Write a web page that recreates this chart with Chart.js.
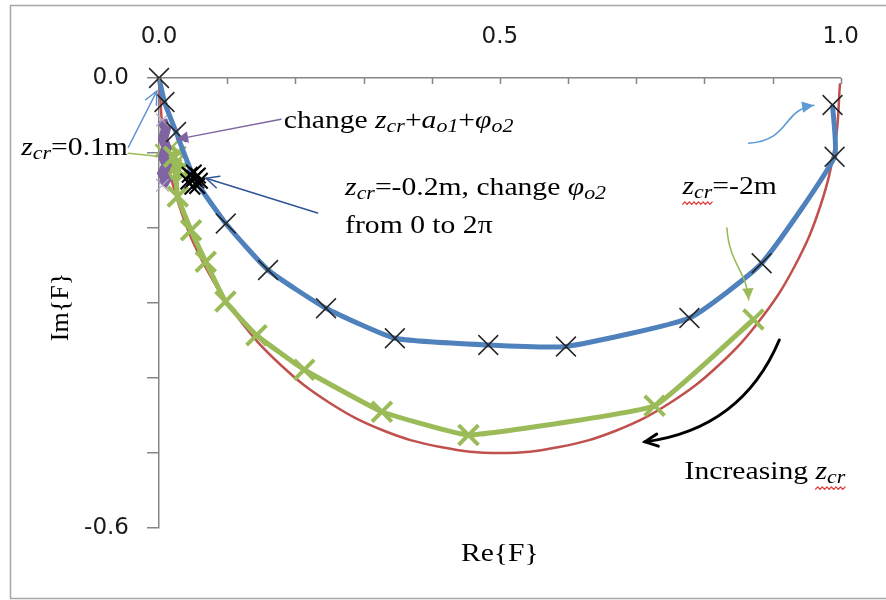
<!DOCTYPE html>
<html>
<head>
<meta charset="utf-8">
<script src="https://cdn.jsdelivr.net/npm/chart.js@4.4.1/dist/chart.umd.min.js"></script>
<style>
  html, body { margin: 0; padding: 0; background: #fff; }
  canvas { display: block; }
</style>
</head>
<body>
<canvas id="chart" width="886" height="600"></canvas>
<script>
const SERIF = '"Liberation Serif", "Times New Roman", serif';
const SANS = '"DejaVu Sans", sans-serif';
const STRETCH = 1.14; // the original picture is a bit wider than tall

// labelled ticks
const reTicks = [0, 0.5, 1];
const imTicks = [0, -0.6];

// red: reference circle
const circleRe = [0, 0.008, 0.030, 0.067, 0.117, 0.179, 0.25, 0.329, 0.413, 0.5, 0.587, 0.671, 0.75, 0.821, 0.883, 0.933, 0.970, 0.992, 0.999];
const circleIm = [0, -0.087, -0.171, -0.25, -0.321, -0.383, -0.433, -0.47, -0.492, -0.5, -0.492, -0.47, -0.433, -0.383, -0.321, -0.25, -0.171, -0.087, -0.007];

// blue line with black markers
const blueRe = [0, 0.008, 0.025, 0.052, 0.098, 0.160, 0.245, 0.346, 0.483, 0.597, 0.778, 0.884, 0.991, 0.988];
const blueIm = [0, -0.032, -0.072, -0.134, -0.194, -0.256, -0.307, -0.347, -0.356, -0.358, -0.320, -0.247, -0.105, -0.036];

// green line
const greenRe = [0.022, 0.0275, 0.047, 0.0686, 0.0975, 0.143, 0.213, 0.327, 0.454, 0.727, 0.872];
const greenIm = [-0.105, -0.158, -0.203, -0.245, -0.298, -0.343, -0.389, -0.445, -0.476, -0.437, -0.322];

// z_cr = -0.2 m, phi_o2 from 0 to 2pi
const phiRe = [0.045, 0.051, 0.057, 0.060, 0.056, 0.049, 0.043, 0.052];
const phiIm = [-0.129, -0.126, -0.130, -0.137, -0.144, -0.145, -0.138, -0.134];

// z_cr = 0.1 m
const z01Re = [0.004, 0.018, 0.030, 0.014, 0.028, 0.016, 0.033, 0.021, 0.036, 0.019];
const z01Im = [-0.097, -0.093, -0.100, -0.106, -0.110, -0.116, -0.119, -0.124, -0.129, -0.133];

// change z_cr + a_o1 + phi_o2
const mixRe = [0.005, 0.010, 0.006, 0.011, 0.006, 0.011, 0.005, 0.010, 0.005];
const mixIm = [-0.056, -0.068, -0.081, -0.093, -0.105, -0.116, -0.127, -0.136, -0.143];

const pts = (re, im) => re.map((x, i) => ({ x, y: im[i] }));

// text notes, anchored in data units (left, baseline)
const notes = [
  { at: [0.183, -0.066], parts: [['change ', ''], ['z', 'i'], ['cr', 's'], ['+', ''], ['a', 'i'], ['o1', 's'], ['+', ''], ['φ', 'i'], ['o2', 's']] },
  { at: [-0.202, -0.103], parts: [['z', 'i'], ['cr', 's'], ['=0.1m', '']] },
  { at: [0.273, -0.156], parts: [['z', 'i'], ['cr', 's'], ['=-0.2m, change ', ''], ['φ', 'i'], ['o2', 's']] },
  { at: [0.273, -0.207], parts: [['from 0 to 2π', '']] },
  { at: [0.768, -0.155], parts: [['z', 'iw'], ['cr', 'sw'], ['=-2m', '']] },
  { at: [0.771, -0.535], parts: [['Increasing ', ''], ['z', 'iw'], ['cr', 'sw']] },
];

const arrows = [
  { p: [[0.179, -0.055], [0.0256, -0.0818]], color: '#8064a2', w: 1.3, head: 'fill' },
  { p: [[-0.045, -0.0923], [-0.0033, -0.0177]], color: '#5b8fd0', w: 1.5, head: 'open' },
  { p: [[-0.045, -0.1003], [-0.0019, -0.1043]], color: '#9bbb59', w: 1.5, head: 'none' },
  { p: [[0.2326, -0.180], [0.069, -0.1336]], color: '#2f5597', w: 1.5, head: 'open' },
  { p: [[0.865, -0.087], [0.927, -0.083], [0.913, -0.043], [0.9605, -0.0364]], color: '#5b9bd5', w: 1.6, head: 'fill' },
  { p: [[0.833, -0.200], [0.837, -0.250], [0.862, -0.256], [0.865, -0.296]], color: '#9bbb59', w: 1.6, head: 'fill' },
  { p: [[0.9099, -0.3493], [0.855, -0.4678], [0.713, -0.4851]], color: '#000', w: 3, head: 'open' },
];

function richText(ctx, x, y, parts, size) {
  ctx.save();
  ctx.translate(x, y);
  ctx.scale(STRETCH, 1);
  ctx.textAlign = 'left';
  ctx.textBaseline = 'alphabetic';
  let cx = 0, wFrom = null, wTo = null;
  for (const [t, st] of parts) {
    const sub = st.includes('s');
    const it = sub || st.includes('i');
    const fs = sub ? size * 0.74 : size;
    ctx.font = (it ? 'italic ' : '') + fs + 'px ' + SERIF;
    ctx.fillStyle = '#000';
    ctx.fillText(t, cx, sub ? size * 0.16 : 0);
    const w = ctx.measureText(t).width;
    if (st.includes('w')) { if (wFrom === null) wFrom = cx; wTo = cx + w; }
    cx += w;
  }
  if (wFrom !== null) {
    ctx.strokeStyle = '#e23b3b';
    ctx.lineWidth = 1.1;
    ctx.beginPath();
    for (let k = 0, px = wFrom; px <= wTo; px += 2, k++) {
      const yy = size * 0.34 + (k % 2 ? -1.2 : 1.2);
      k ? ctx.lineTo(px, yy) : ctx.moveTo(px, yy);
    }
    ctx.stroke();
  }
  ctx.restore();
}

function head(ctx, tip, from, size, kind, color) {
  const a = Math.atan2(tip[1] - from[1], tip[0] - from[0]);
  const p1 = [tip[0] - size * Math.cos(a - 0.45), tip[1] - size * Math.sin(a - 0.45)];
  const p2 = [tip[0] - size * Math.cos(a + 0.45), tip[1] - size * Math.sin(a + 0.45)];
  ctx.beginPath();
  ctx.moveTo(p1[0], p1[1]);
  ctx.lineTo(tip[0], tip[1]);
  ctx.lineTo(p2[0], p2[1]);
  if (kind === 'fill') { ctx.closePath(); ctx.fillStyle = color; ctx.fill(); }
  else ctx.stroke();
}

const extras = {
  id: 'extras',
  beforeDraw(chart) {
    const ctx = chart.ctx;
    ctx.save();
    ctx.strokeStyle = '#a6a6a6';
    ctx.lineWidth = 1.5;
    ctx.strokeRect(10.5, 5.5, 900, 593);
    ctx.restore();
  },
  afterDraw(chart) {
    const ctx = chart.ctx;
    const sx = chart.scales.x, sy = chart.scales.y;
    const X = v => sx.getPixelForValue(v), Y = v => sy.getPixelForValue(v);
    ctx.save();
    // inward tick marks on the top axis
    ctx.strokeStyle = '#868686';
    ctx.lineWidth = 1.5;
    for (let i = 0; i <= 10; i++) {
      const px = Math.round(X(i / 10)) + 0.5;
      ctx.beginPath();
      ctx.moveTo(px, sy.top);
      ctx.lineTo(px, sy.top + 6);
      ctx.stroke();
    }
    // axis titles
    ctx.fillStyle = '#000';
    ctx.font = '26px ' + SERIF;
    ctx.textAlign = 'center';
    ctx.textBaseline = 'alphabetic';
    ctx.save();
    ctx.translate(68, 307);
    ctx.rotate(-Math.PI / 2);
    ctx.fillText('Im{F}', 0, 0);
    ctx.restore();
    ctx.save();
    ctx.translate((sx.left + sx.right) / 2, 561);
    ctx.scale(STRETCH, 1);
    ctx.fillText('Re{F}', 0, 0);
    ctx.restore();
    // arrows
    ctx.lineCap = 'round';
    arrows.forEach(a => {
      const q = a.p.map(([re, im]) => [X(re), Y(im)]);
      ctx.strokeStyle = a.color;
      ctx.lineWidth = a.w;
      ctx.beginPath();
      ctx.moveTo(q[0][0], q[0][1]);
      if (q.length === 2) ctx.lineTo(q[1][0], q[1][1]);
      else if (q.length === 3) ctx.quadraticCurveTo(q[1][0], q[1][1], q[2][0], q[2][1]);
      else ctx.bezierCurveTo(q[1][0], q[1][1], q[2][0], q[2][1], q[3][0], q[3][1]);
      ctx.stroke();
      if (a.head !== 'none') {
        const tip = q[q.length - 1], from = q[q.length - 2];
        head(ctx, tip, from, a.head === 'fill' ? 13 : 14, a.head, a.color);
      }
    });
    // notes
    notes.forEach(n => richText(ctx, X(n.at[0]), Y(n.at[1]), n.parts, 26));
    ctx.restore();
  }
};

const line = (data, color, width, extra) => Object.assign({
  data, showLine: true, borderColor: color, borderWidth: width,
  pointRadius: 0, clip: false, tension: 0
}, extra);

new Chart(document.getElementById('chart'), {
  type: 'scatter',
  data: {
    datasets: [
      line(pts(circleRe, circleIm), '#c0504d', 2.5, { tension: 0.4, order: 7 }),
      line(pts(z01Re, z01Im), '#9bbb59', 4, {
        order: 6, pointStyle: 'crossRot', pointRadius: 9,
        pointBorderColor: '#9bbb59', pointBorderWidth: 2.5
      }),
      line(pts(mixRe, mixIm), '#8064a2', 10, {
        order: 5, pointStyle: 'crossRot', pointRadius: [9, 0, 0, 0, 0, 0, 0, 0, 9],
        pointBorderColor: '#b3a2c7', pointBorderWidth: 1.2
      }),
      line(pts(greenRe, greenIm), '#9bbb59', 5, {
        order: 3, tension: 0.1, pointStyle: 'crossRot', pointRadius: 14,
        pointBorderColor: '#9bbb59', pointBorderWidth: 4
      }),
      line(pts(blueRe, blueIm), '#4f81bd', 5, {
        order: 2, tension: 0.15, pointStyle: 'crossRot', pointRadius: 14,
        pointBorderColor: '#262626', pointBorderWidth: 1.5
      }),
      line(pts(phiRe, phiIm), '#1a1a1a', 1.5, {
        order: 1, pointStyle: 'crossRot', pointRadius: 11,
        pointBorderColor: '#000', pointBorderWidth: 2
      })
    ]
  },
  options: {
    responsive: false,
    devicePixelRatio: 1,
    animation: false,
    events: [],
    layout: { padding: { left: 0, top: 0, right: 36, bottom: 72 } },
    plugins: { legend: { display: false }, tooltip: { enabled: false } },
    scales: {
      x: {
        type: 'linear', position: 'top', min: 0, max: 1,
        afterFit: s => { s.height = 78; },
        grid: { display: false, drawTicks: false },
        border: { display: true, color: '#868686', width: 1.5 },
        ticks: {
          stepSize: 0.1, padding: 27, color: '#1a1a1a', maxRotation: 0, autoSkip: false,
          font: { family: SANS, size: 23 },
          callback: v => reTicks.some(t => Math.abs(t - v) < 1e-6) ? v.toFixed(1) : ''
        }
      },
      y: {
        type: 'linear', min: -0.6, max: 0,
        afterFit: s => { s.width = 159; },
        grid: { drawOnChartArea: false, tickLength: 12, color: '#868686', lineWidth: 1.5 },
        border: { display: true, color: '#868686', width: 1.5 },
        ticks: {
          stepSize: 0.1, padding: 18, color: '#1a1a1a', autoSkip: false,
          font: { family: SANS, size: 23 },
          callback: v => imTicks.some(t => Math.abs(t - v) < 1e-6) ? v.toFixed(1) : ''
        }
      }
    }
  },
  plugins: [extras]
});
</script>
</body>
</html>
